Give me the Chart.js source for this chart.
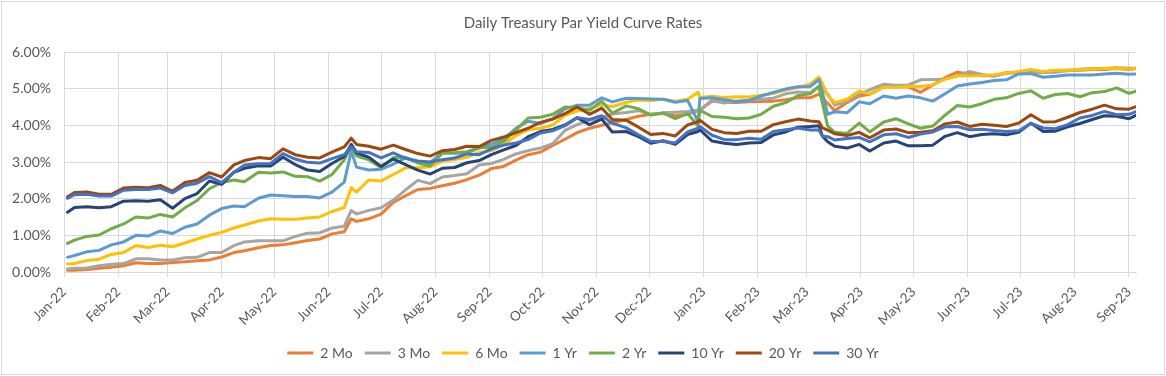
<!DOCTYPE html>
<html>
<head>
<meta charset="utf-8">
<script src="https://cdn.jsdelivr.net/npm/chart.js@4.4.1/dist/chart.umd.min.js"></script>
<style>
  html, body { margin: 0; padding: 0; background: #fff; }
  #wrap { position: relative; width: 1166px; height: 376px; }
  #frame { position: absolute; left: 1px; top: 1px; width: 1162px; height: 372px; border: 1px solid #d9d9d9; pointer-events: none; }
</style>
</head>
<body>
<div id="wrap">
  <canvas id="chartYield" width="1166" height="376"></canvas>
  <div id="frame"></div>
</div>
<script>
var yield_chart = "chartYield";

// observation dates (weekly, plus a few notable days)
var dates = [
	'2022-01-03','2022-01-07','2022-01-14','2022-01-21','2022-01-28',
	'2022-02-04','2022-02-11','2022-02-18','2022-02-25',
	'2022-03-04','2022-03-11','2022-03-18','2022-03-25',
	'2022-04-01','2022-04-08','2022-04-14','2022-04-22','2022-04-29',
	'2022-05-06','2022-05-13','2022-05-20','2022-05-27',
	'2022-06-03','2022-06-10','2022-06-14','2022-06-17','2022-06-24',
	'2022-07-01','2022-07-08','2022-07-15','2022-07-22','2022-07-29',
	'2022-08-05','2022-08-12','2022-08-19','2022-08-26',
	'2022-09-02','2022-09-09','2022-09-16','2022-09-23','2022-09-30',
	'2022-10-07','2022-10-14','2022-10-21','2022-10-28',
	'2022-11-04','2022-11-10','2022-11-18','2022-11-25',
	'2022-12-02','2022-12-09','2022-12-16','2022-12-23','2022-12-29','2022-12-30',
	'2023-01-06','2023-01-13','2023-01-20','2023-01-27',
	'2023-02-03','2023-02-10','2023-02-17','2023-02-24',
	'2023-03-03','2023-03-08','2023-03-10','2023-03-13','2023-03-17','2023-03-24','2023-03-31',
	'2023-04-06','2023-04-14','2023-04-21','2023-04-28',
	'2023-05-05','2023-05-12','2023-05-19','2023-05-26',
	'2023-06-02','2023-06-09','2023-06-16','2023-06-23','2023-06-30',
	'2023-07-07','2023-07-14','2023-07-21','2023-07-28',
	'2023-08-04','2023-08-11','2023-08-18','2023-08-25',
	'2023-09-01','2023-09-05'
];

var seriesNames = ['2 Mo', '3 Mo', '6 Mo', '1 Yr', '2 Yr', '10 Yr', '20 Yr', '30 Yr'];
var seriesColors = ['#ED7D31', '#A5A5A5', '#FFC000', '#5B9BD5', '#70AD47', '#264478', '#9E480E', '#4472C4'];

var mo2 = [
	0.05, 0.05, 0.07, 0.10, 0.13,
	0.17, 0.25, 0.23, 0.23,
	0.26, 0.28, 0.31, 0.33,
	0.41, 0.53, 0.58, 0.66, 0.72,
	0.74, 0.80, 0.86, 0.90,
	1.04, 1.10, 1.45, 1.38, 1.45,
	1.58, 1.90, 2.08, 2.25, 2.28,
	2.35, 2.42, 2.52, 2.64,
	2.82, 2.88, 3.05, 3.20, 3.27,
	3.45, 3.62, 3.80, 3.92,
	4.00, 4.07, 4.16, 4.25,
	4.30, 4.32, 4.26, 4.30, 4.40, 4.41,
	4.66, 4.62, 4.62, 4.64,
	4.65, 4.66, 4.70, 4.75,
	4.75, 4.85, 4.75, 4.60, 4.40, 4.62, 4.80,
	4.85, 5.05, 5.05, 5.05,
	4.90, 5.10, 5.30, 5.45,
	5.40, 5.35, 5.35, 5.42, 5.45,
	5.48, 5.46, 5.48, 5.50,
	5.50, 5.52, 5.52, 5.55,
	5.52, 5.55
];
var mo3 = [
	0.08, 0.10, 0.11, 0.17, 0.21,
	0.23, 0.36, 0.36, 0.33,
	0.33, 0.39, 0.40, 0.53,
	0.53, 0.72, 0.82, 0.85, 0.85,
	0.85, 0.97, 1.06, 1.07,
	1.20, 1.25, 1.68, 1.58, 1.68,
	1.75, 1.96, 2.24, 2.50, 2.41,
	2.59, 2.63, 2.68, 2.92,
	2.96, 3.07, 3.22, 3.31, 3.38,
	3.50, 3.86, 4.02, 4.14,
	4.20, 4.31, 4.35, 4.40,
	4.30, 4.34, 4.36, 4.38, 4.42, 4.42,
	4.69, 4.61, 4.66, 4.69,
	4.71, 4.74, 4.86, 4.91,
	4.89, 5.05, 4.97, 4.85, 4.55, 4.65, 4.85,
	4.97, 5.12, 5.09, 5.10,
	5.24, 5.25, 5.26, 5.35,
	5.47, 5.39, 5.34, 5.44, 5.43,
	5.45, 5.44, 5.45, 5.49,
	5.53, 5.55, 5.55, 5.57,
	5.56, 5.56
];
var mo6 = [
	0.22, 0.23, 0.31, 0.35, 0.48,
	0.53, 0.72, 0.67, 0.73,
	0.69, 0.79, 0.90, 1.00,
	1.08, 1.20, 1.28, 1.39, 1.45,
	1.44, 1.44, 1.47, 1.50,
	1.65, 1.76, 2.30, 2.18, 2.51,
	2.48, 2.66, 2.84, 2.84, 2.87,
	3.02, 3.07, 3.13, 3.26,
	3.31, 3.47, 3.72, 3.88, 3.92,
	4.01, 4.27, 4.39, 4.46,
	4.57, 4.51, 4.63, 4.69,
	4.68, 4.71, 4.66, 4.71, 4.90, 4.76,
	4.79, 4.76, 4.78, 4.77,
	4.82, 4.87, 4.96, 5.03,
	5.12, 5.32, 5.14, 4.81, 4.62, 4.71, 4.94,
	4.85, 5.04, 5.04, 5.06,
	5.06, 5.10, 5.26, 5.35,
	5.35, 5.36, 5.38, 5.43, 5.47,
	5.52, 5.47, 5.50, 5.50,
	5.53, 5.53, 5.55, 5.56,
	5.53, 5.56
];
var yr1 = [
	0.40, 0.45, 0.55, 0.59, 0.74,
	0.82, 1.00, 0.98, 1.12,
	1.05, 1.22, 1.31, 1.55,
	1.73, 1.80, 1.78, 2.01, 2.10,
	2.08, 2.06, 2.06, 2.02,
	2.18, 2.45, 3.30, 2.86, 2.78,
	2.80, 2.94, 3.11, 3.00, 2.98,
	3.26, 3.24, 3.25, 3.38,
	3.49, 3.63, 3.92, 4.11, 4.05,
	4.18, 4.45, 4.55, 4.55,
	4.75, 4.64, 4.74, 4.73,
	4.72, 4.71, 4.63, 4.68, 4.10, 4.73,
	4.75, 4.70, 4.65, 4.67,
	4.80, 4.90, 4.99, 5.05,
	5.06, 5.25, 4.90, 4.30, 4.37, 4.34, 4.64,
	4.59, 4.80, 4.74, 4.80,
	4.75, 4.66, 4.86, 5.07,
	5.13, 5.17, 5.22, 5.24, 5.40,
	5.41, 5.31, 5.34, 5.37,
	5.37, 5.37, 5.40, 5.42,
	5.39, 5.40
];
var yr2 = [
	0.78, 0.87, 0.97, 1.01, 1.18,
	1.31, 1.50, 1.47, 1.57,
	1.50, 1.75, 1.95, 2.27,
	2.44, 2.51, 2.46, 2.72, 2.70,
	2.73, 2.61, 2.60, 2.48,
	2.66, 3.06, 3.43, 3.17, 3.06,
	2.84, 3.12, 3.13, 2.97, 2.89,
	3.24, 3.25, 3.28, 3.39,
	3.40, 3.56, 3.87, 4.20, 4.22,
	4.30, 4.50, 4.48, 4.41,
	4.66, 4.33, 4.53, 4.45,
	4.28, 4.34, 4.18, 4.32, 3.98, 4.41,
	4.24, 4.22, 4.18, 4.20,
	4.30, 4.52, 4.62, 4.81,
	4.86, 5.07, 4.60, 3.98, 3.81, 3.78, 4.06,
	3.82, 4.09, 4.18, 4.04,
	3.92, 3.98, 4.28, 4.54,
	4.50, 4.59, 4.71, 4.75, 4.87,
	4.94, 4.74, 4.84, 4.87,
	4.78, 4.89, 4.92, 5.02,
	4.87, 4.93
];
var yr10 = [
	1.63, 1.76, 1.78, 1.75, 1.78,
	1.93, 1.94, 1.93, 1.97,
	1.74, 2.00, 2.14, 2.48,
	2.39, 2.72, 2.83, 2.90, 2.89,
	3.13, 2.93, 2.78, 2.74,
	2.96, 3.15, 3.48, 3.25, 3.13,
	2.88, 3.08, 2.93, 2.78, 2.67,
	2.83, 2.85, 2.98, 3.04,
	3.20, 3.33, 3.45, 3.69, 3.83,
	3.89, 4.01, 4.21, 4.02,
	4.17, 3.82, 3.83, 3.69,
	3.51, 3.58, 3.48, 3.75, 3.83, 3.88,
	3.57, 3.51, 3.48, 3.52,
	3.53, 3.74, 3.82, 3.95,
	3.97, 3.99, 3.70, 3.55, 3.43, 3.38, 3.48,
	3.30, 3.52, 3.57, 3.44,
	3.44, 3.46, 3.70, 3.80,
	3.69, 3.75, 3.77, 3.74, 3.81,
	4.06, 3.83, 3.84, 3.96,
	4.05, 4.16, 4.26, 4.25,
	4.18, 4.27
];
var yr20 = [
	2.05, 2.17, 2.18, 2.12, 2.12,
	2.29, 2.31, 2.30, 2.36,
	2.20, 2.44, 2.50, 2.71,
	2.59, 2.92, 3.04, 3.12, 3.09,
	3.36, 3.20, 3.13, 3.11,
	3.27, 3.41, 3.65, 3.48, 3.43,
	3.35, 3.46, 3.34, 3.23, 3.16,
	3.31, 3.34, 3.43, 3.42,
	3.59, 3.68, 3.80, 3.92, 4.08,
	4.17, 4.32, 4.50, 4.30,
	4.47, 4.16, 4.14, 3.95,
	3.75, 3.78, 3.71, 4.01, 4.10, 4.14,
	3.89, 3.80, 3.78, 3.84,
	3.84, 4.02, 4.10, 4.17,
	4.12, 4.10, 3.93, 3.87, 3.77, 3.72, 3.81,
	3.66, 3.87, 3.90, 3.80,
	3.81, 3.85, 4.04, 4.09,
	3.97, 4.03, 4.00, 3.97, 4.06,
	4.29, 4.09, 4.10, 4.22,
	4.35, 4.44, 4.55, 4.45,
	4.44, 4.51
];
var yr30 = [
	2.01, 2.11, 2.12, 2.07, 2.07,
	2.23, 2.25, 2.25, 2.29,
	2.16, 2.36, 2.42, 2.60,
	2.44, 2.72, 2.92, 2.95, 2.96,
	3.23, 3.08, 2.99, 2.97,
	3.09, 3.20, 3.41, 3.28, 3.26,
	3.11, 3.25, 3.10, 3.03, 3.00,
	3.06, 3.11, 3.22, 3.20,
	3.36, 3.46, 3.52, 3.61, 3.79,
	3.85, 3.99, 4.21, 4.16,
	4.26, 4.06, 3.93, 3.74,
	3.56, 3.56, 3.52, 3.82, 3.92, 3.97,
	3.73, 3.61, 3.61, 3.65,
	3.62, 3.83, 3.88, 3.93,
	3.87, 3.87, 3.70, 3.69, 3.60, 3.64, 3.67,
	3.55, 3.74, 3.77, 3.67,
	3.76, 3.82, 3.96, 3.97,
	3.88, 3.89, 3.86, 3.83, 3.85,
	4.05, 3.93, 3.91, 4.02,
	4.20, 4.27, 4.38, 4.29,
	4.30, 4.37
];

var monthTicks = [
	'2022-01-01','2022-02-01','2022-03-01','2022-04-01','2022-05-01','2022-06-01','2022-07-01',
	'2022-08-01','2022-09-01','2022-10-01','2022-11-01','2022-12-01','2023-01-01','2023-02-01',
	'2023-03-01','2023-04-01','2023-05-01','2023-06-01','2023-07-01','2023-08-01','2023-09-01'
];
var tickLabels = [
	'Jan-22','Feb-22','Mar-22','Apr-22','May-22','Jun-22','Jul-22','Aug-22','Sep-22','Oct-22','Nov-22',
	'Dec-22','Jan-23','Feb-23','Mar-23','Apr-23','May-23','Jun-23','Jul-23','Aug-23','Sep-23'
];
var yTicks = [0, 1, 2, 3, 4, 5, 6];

var allSeries = [mo2, mo3, mo6, yr1, yr2, yr10, yr20, yr30];

function dayOf(s) {
	var p = s.split('-');
	return (Date.UTC(+p[0], +p[1] - 1, +p[2]) - Date.UTC(2022, 0, 1)) / 86400000;
}

var tickDays = monthTicks.map(dayOf);

function buildDatasets() {
	return allSeries.map(function(values, i) {
		return {
			label: seriesNames[i],
			data: dates.map(function(d, k) { return { x: dayOf(d), y: values[k] }; }),
			borderColor: seriesColors[i],
			backgroundColor: seriesColors[i],
			borderWidth: 3,
			pointRadius: 0,
			tension: 0,
			borderJoinStyle: 'round',
			borderCapStyle: 'round',
			order: allSeries.length - i
		};
	});
}

function Init() {
	Chart.defaults.font.family = "Lato, 'Open Sans', sans-serif";
	Chart.defaults.color = '#595959';

	new Chart(document.getElementById(yield_chart).getContext('2d'), {
		type: 'line',
		data: { datasets: buildDatasets() },
		options: {
			responsive: false,
			animation: false,
			devicePixelRatio: 1,
			layout: { padding: { left: 0, right: 0, top: 0, bottom: 6 } },
			plugins: {
				title: {
					display: true,
					text: 'Daily Treasury Par Yield Curve Rates',
					color: '#595959',
					font: { size: 15, weight: 'normal' },
					padding: { top: 14, bottom: 20 }
				},
				legend: {
					position: 'bottom',
					labels: {
						usePointStyle: true,
						pointStyle: 'line',
						pointStyleWidth: 26,
						color: '#595959',
						font: { size: 14 },
						padding: 12,
						sort: function(a, b) { return a.datasetIndex - b.datasetIndex; }
					}
				},
				tooltip: { enabled: false }
			},
			scales: {
				x: {
					type: 'linear',
					min: 0,
					max: dayOf(dates[dates.length - 1]),
					afterBuildTicks: function(scale) {
						scale.ticks = tickDays.map(function(v) { return { value: v }; });
					},
					afterFit: function(scale) { scale.height = 62; },
					ticks: {
						autoSkip: false,
						maxRotation: 45,
						minRotation: 45,
						color: '#595959',
						font: { size: 13.5 },
						padding: 7,
						callback: function(value) {
							var i = tickDays.indexOf(value);
							return i >= 0 ? tickLabels[i] : '';
						}
					},
					grid: { color: '#d9d9d9', lineWidth: 1, tickLength: 5 },
					border: { color: '#d9d9d9' }
				},
				y: {
					min: 0,
					max: 6,
					afterBuildTicks: function(scale) {
						scale.ticks = yTicks.map(function(v) { return { value: v }; });
					},
					afterFit: function(scale) { scale.width = 64; },
					ticks: {
						color: '#595959',
						font: { size: 14 },
						padding: 13,
						callback: function(value) { return value.toFixed(2) + '%'; }
					},
					grid: { color: '#d9d9d9', lineWidth: 1, drawTicks: false },
					border: { display: false }
				},
				// empty right-hand margin, so the title and legend centre on the whole chart
				yRight: {
					position: 'right',
					min: 0,
					max: 6,
					afterFit: function(scale) { scale.width = 30; },
					ticks: { display: false },
					grid: { display: false },
					border: { display: false }
				}
			}
		}
	});
}

Init();
</script>
</body>
</html>
